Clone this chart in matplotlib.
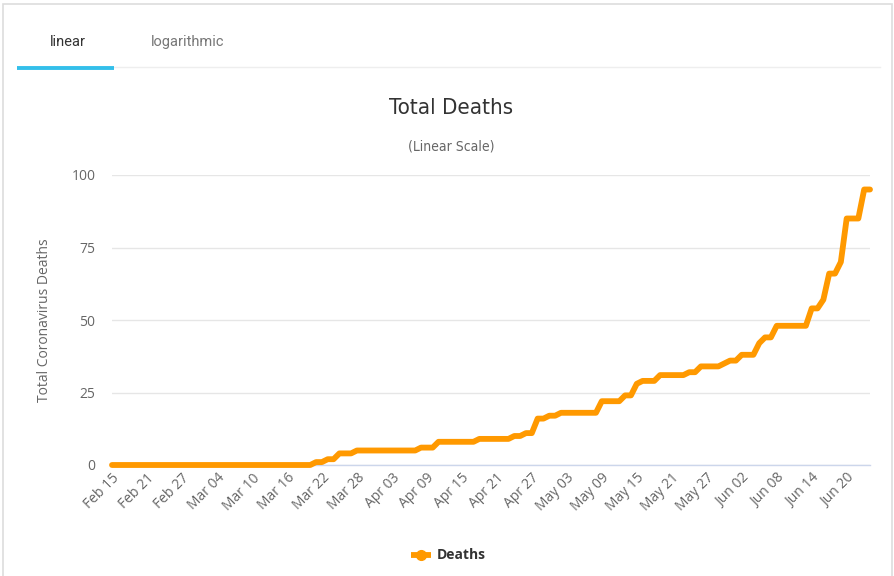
import matplotlib
matplotlib.use("Agg")
import matplotlib.pyplot as plt
from matplotlib.lines import Line2D
from matplotlib.patches import Rectangle

# ---- data ----
start_date = "2020-02-15"
deaths = [
    0, 0, 0, 0, 0, 0, 0, 0, 0, 0,   # Feb 15 - Feb 24
    0, 0, 0, 0, 0, 0, 0, 0, 0, 0,   # Feb 25 - Mar 05
    0, 0, 0, 0, 0, 0, 0, 0, 0, 0,   # Mar 06 - Mar 15
    0, 0, 0, 0, 0, 1, 1, 2, 2, 4,   # Mar 16 - Mar 25
    4, 4, 5, 5, 5, 5, 5, 5, 5, 5,   # Mar 26 - Apr 04
    5, 5, 5, 6, 6, 6, 8, 8, 8, 8,   # Apr 05 - Apr 14
    8, 8, 8, 9, 9, 9, 9, 9, 9, 10,  # Apr 15 - Apr 24
    10, 11, 11, 16, 16, 17, 17, 18, 18, 18,  # Apr 25 - May 04
    18, 18, 18, 18, 22, 22, 22, 22, 24, 24,  # May 05 - May 14
    28, 29, 29, 29, 31, 31, 31, 31, 31, 32,  # May 15 - May 24
    32, 34, 34, 34, 34, 35, 36, 36, 38, 38,  # May 25 - Jun 03
    38, 42, 44, 44, 48, 48, 48, 48, 48, 48,  # Jun 04 - Jun 13
    54, 54, 57, 66, 66, 70, 85, 85, 85, 95,  # Jun 14 - Jun 23
    95,                                      # Jun 24
]
tick_labels = ["Feb 15", "Feb 21", "Feb 27", "Mar 04", "Mar 10", "Mar 16",
               "Mar 22", "Mar 28", "Apr 03", "Apr 09", "Apr 15", "Apr 21",
               "Apr 27", "May 03", "May 09", "May 15", "May 21", "May 27",
               "Jun 02", "Jun 08", "Jun 14", "Jun 20"]
y_ticks = [0, 25, 50, 75, 100]
series_name = "Deaths"

W, H = 895, 576
fig = plt.figure(figsize=(W / 100, H / 100), dpi=100)
fig.patch.set_facecolor("white")

def fx(px):
    return px / W

def fy(py):
    return 1 - py / H

ORANGE = "#FF9900"
GRAY = "#666666"
TICKFONT = ["Open Sans", "DejaVu Sans"]

# outer border
fig.add_artist(Rectangle((fx(3.5), fy(580)), fx(889), fy(3.5) - fy(580),
                         transform=fig.transFigure, fill=False, edgecolor="#dddddd", lw=1.2))
# tabs
fig.text(fx(68), fy(42), "linear", ha="center", va="center", fontsize=10.5,
         color="#333333", family=["Roboto", "DejaVu Sans"])
fig.text(fx(188), fy(42), "logarithmic", ha="center", va="center", fontsize=10.5,
         color="#777777", family=["Roboto", "DejaVu Sans"])
fig.add_artist(Line2D([fx(114), fx(880)], [fy(66.5), fy(66.5)], transform=fig.transFigure,
                      color="#eeeeee", lw=1))
fig.add_artist(Line2D([fx(17), fx(114)], [fy(68), fy(68)], transform=fig.transFigure,
                      color="#33bfea", lw=2.8, solid_capstyle="butt"))

# title
fig.text(fx(451), fy(108), "Total Deaths", ha="center", va="center", fontsize=16,
         color="#333333", family=["DejaVu Sans"], fontstretch="condensed")
fig.text(fx(451), fy(147), "(Linear Scale)", ha="center", va="center", fontsize=10,
         color=GRAY, family=["DejaVu Sans"], fontstretch="condensed")

left, right, top, bottom = 112, 870, 175, 465
ax = fig.add_axes([fx(left), fy(bottom), fx(right - left), fy(top) - fy(bottom)])
ax.set_facecolor("none")

days = list(range(len(deaths)))
ax.plot(days, deaths, color=ORANGE, lw=4.2, solid_joinstyle="round",
        solid_capstyle="round", clip_on=False, zorder=3)

ax.set_xlim(0, len(deaths) - 1)
ax.set_ylim(0, 100)
ax.set_yticks(y_ticks)
ax.set_yticklabels([str(v) for v in y_ticks], fontsize=10, color=GRAY, family=TICKFONT)
ax.yaxis.grid(True, color="#e6e6e6", lw=1)
ax.set_axisbelow(True)
ax.tick_params(axis="y", length=0, pad=12)

xt = list(range(0, len(deaths), 6))[:len(tick_labels)]
ax.set_xticks(xt)
ax.set_xticklabels(tick_labels, rotation=45, ha="right", rotation_mode="anchor",
                   fontsize=10, color=GRAY, family=TICKFONT)
ax.tick_params(axis="x", length=0, pad=4)

for s in ["top", "right", "left"]:
    ax.spines[s].set_visible(False)
ax.spines["bottom"].set_color("#ccd6eb")
ax.spines["bottom"].set_linewidth(1)

ax.set_ylabel("Total Coronavirus Deaths", fontsize=10, color=GRAY,
              family=TICKFONT, labelpad=14)

# legend
fig.add_artist(Line2D([fx(411), fx(421), fx(431)], [fy(555), fy(555), fy(555)],
                      transform=fig.transFigure, color=ORANGE, lw=4.2,
                      marker="o", markersize=7, markevery=[1], solid_capstyle="butt"))
fig.text(fx(437), fy(555), series_name, ha="left", va="center", fontsize=10,
         fontweight="bold", color="#333333", family=TICKFONT)

fig.savefig("out.png", dpi=100, facecolor="white")
